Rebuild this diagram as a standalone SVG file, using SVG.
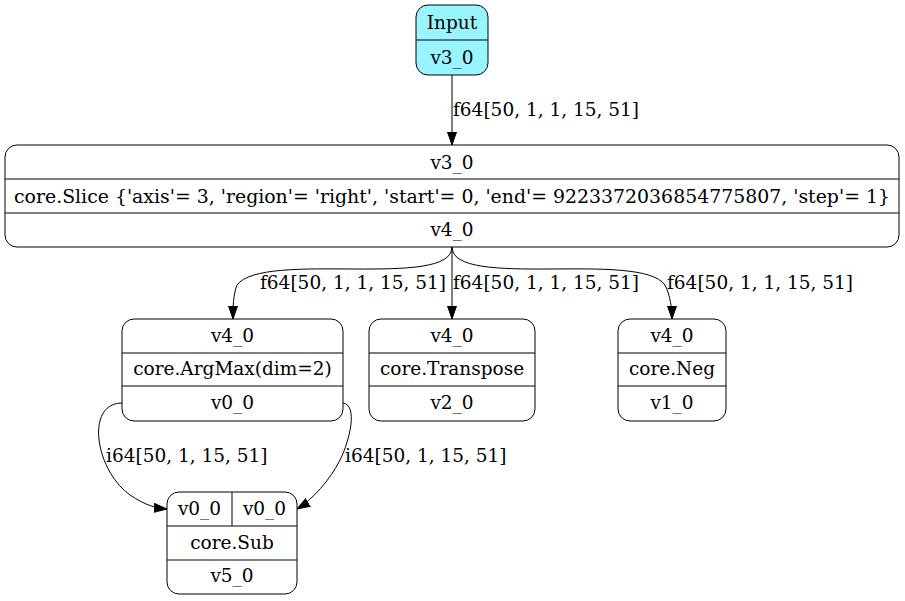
<svg xmlns="http://www.w3.org/2000/svg" width="905" height="601" viewBox="0 0 905 601">
  <style>
    .box { fill: #ffffff; stroke: #000000; stroke-width: 1; }
    .sep { stroke: #000000; stroke-width: 1; fill: none; }
    .lbl { font-family: "DejaVu Serif", serif; font-size: 18.5px; fill: #000000; text-anchor: middle; }
    .elbl { font-family: "DejaVu Serif", serif; font-size: 18.5px; fill: #000000; text-anchor: start; }
    .edge { fill: none; stroke: #000000; stroke-width: 1; }
  </style>
  <defs>
    <marker id="arrow" viewBox="0 0 13 10" refX="13" refY="5" markerWidth="13" markerHeight="10" markerUnits="userSpaceOnUse" orient="auto">
      <path d="M0,0.5 L13,5 L0,9.5 Z" fill="#000000" stroke="#000000" stroke-width="1"/>
    </marker>
  </defs>
  <rect width="905" height="601" fill="#ffffff"/>

  <!-- connectors -->
  <g id="edges">
    <path class="edge" d="M452,75 L452,145" marker-end="url(#arrow)"/>
    <text class="elbl" x="453" y="116">f64[50, 1, 1, 15, 51]</text>

    <path class="edge" d="M452,247 C452,290 263,250 237,285 C233,295 233,308 233,319" marker-end="url(#arrow)"/>
    <text class="elbl" x="260" y="289">f64[50, 1, 1, 15, 51]</text>

    <path class="edge" d="M452,247 L452,319" marker-end="url(#arrow)"/>
    <text class="elbl" x="453" y="289">f64[50, 1, 1, 15, 51]</text>

    <path class="edge" d="M452,247 C452,290 640,250 665,285 C670,295 672,308 672,319" marker-end="url(#arrow)"/>
    <text class="elbl" x="667" y="289">f64[50, 1, 1, 15, 51]</text>

    <path class="edge" d="M122,403 C85,403 95,470 130,495 C145,505 155,508 167,509" marker-end="url(#arrow)"/>
    <text class="elbl" x="106" y="462">i64[50, 1, 15, 51]</text>

    <path class="edge" d="M343,403 C358,405 350,440 340,460 C330,480 312,500 297,509" marker-end="url(#arrow)"/>
    <text class="elbl" x="345" y="462">i64[50, 1, 15, 51]</text>
  </g>

  <!-- Input -->
  <g id="node-input">
    <rect x="416" y="5" width="72" height="70" rx="12" ry="12" fill="#98f5ff" stroke="#000000"/>
    <line class="sep" x1="416" y1="40" x2="488" y2="40"/>
    <text class="lbl" x="452" y="29">Input</text>
    <text class="lbl" x="452" y="64">v3_0</text>
  </g>

  <!-- Slice -->
  <g id="node-slice">
    <rect class="box" x="5" y="145" width="894" height="102" rx="12" ry="12"/>
    <line class="sep" x1="5" y1="179" x2="899" y2="179"/>
    <line class="sep" x1="5" y1="213" x2="899" y2="213"/>
    <text class="lbl" x="452" y="169">v3_0</text>
    <text class="lbl" x="452" y="203" textLength="876" lengthAdjust="spacingAndGlyphs">core.Slice {'axis'= 3, 'region'= 'right', 'start'= 0, 'end'= 9223372036854775807, 'step'= 1}</text>
    <text class="lbl" x="452" y="236">v4_0</text>
  </g>

  <!-- ArgMax -->
  <g id="node-argmax">
    <rect class="box" x="122" y="319" width="221" height="102" rx="12" ry="12"/>
    <line class="sep" x1="122" y1="353" x2="343" y2="353"/>
    <line class="sep" x1="122" y1="386" x2="343" y2="386"/>
    <text class="lbl" x="232.5" y="342">v4_0</text>
    <text class="lbl" x="232.5" y="375">core.ArgMax(dim=2)</text>
    <text class="lbl" x="232.5" y="409">v0_0</text>
  </g>

  <!-- Transpose -->
  <g id="node-transpose">
    <rect class="box" x="369" y="319" width="166" height="102" rx="12" ry="12"/>
    <line class="sep" x1="369" y1="353" x2="535" y2="353"/>
    <line class="sep" x1="369" y1="386" x2="535" y2="386"/>
    <text class="lbl" x="452" y="342">v4_0</text>
    <text class="lbl" x="452" y="375">core.Transpose</text>
    <text class="lbl" x="452" y="409">v2_0</text>
  </g>

  <!-- Neg -->
  <g id="node-neg">
    <rect class="box" x="618" y="319" width="108" height="102" rx="12" ry="12"/>
    <line class="sep" x1="618" y1="353" x2="726" y2="353"/>
    <line class="sep" x1="618" y1="386" x2="726" y2="386"/>
    <text class="lbl" x="672" y="342">v4_0</text>
    <text class="lbl" x="672" y="375">core.Neg</text>
    <text class="lbl" x="672" y="409">v1_0</text>
  </g>

  <!-- Sub -->
  <g id="node-sub">
    <rect class="box" x="167" y="492" width="130" height="102" rx="12" ry="12"/>
    <line class="sep" x1="232" y1="492" x2="232" y2="526"/>
    <line class="sep" x1="167" y1="526" x2="297" y2="526"/>
    <line class="sep" x1="167" y1="560" x2="297" y2="560"/>
    <text class="lbl" x="199.5" y="515">v0_0</text>
    <text class="lbl" x="264.5" y="515">v0_0</text>
    <text class="lbl" x="232" y="549">core.Sub</text>
    <text class="lbl" x="232" y="582">v5_0</text>
  </g>
</svg>
